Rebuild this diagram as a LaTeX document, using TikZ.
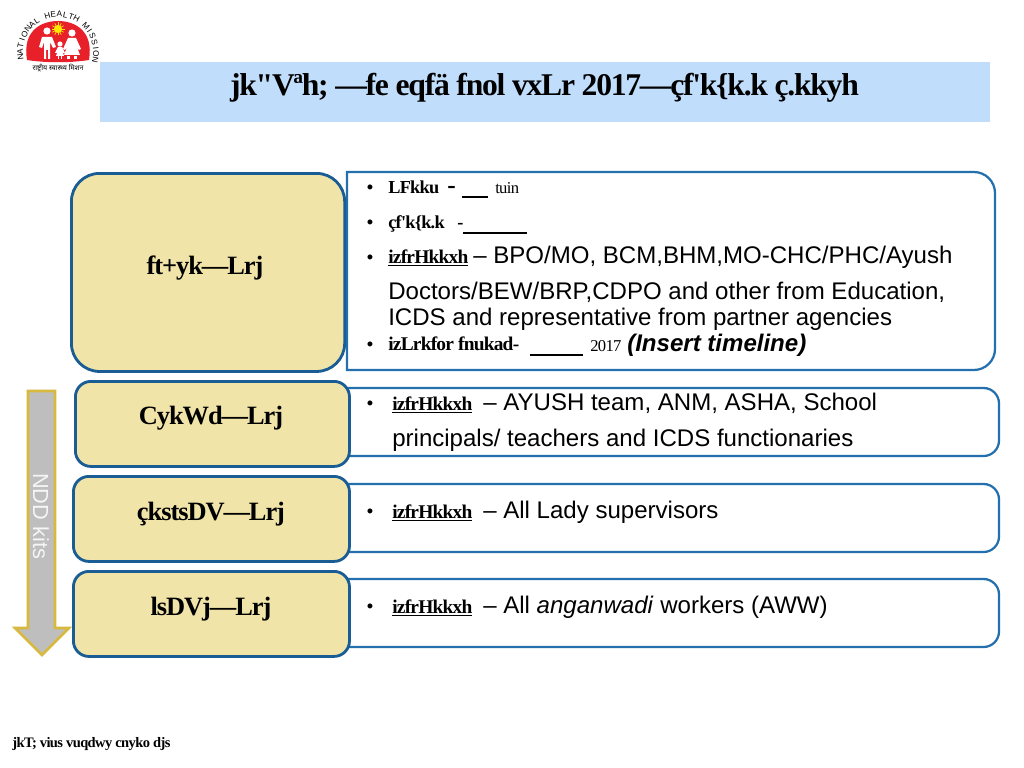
\documentclass[tikz,border=0pt]{standalone}
\usepackage{fontspec}
\setmainfont{Liberation Sans}
\newfontfamily\kdfont[LetterSpace=-4]{Liberation Serif}
\newfontfamily\kdplain{Liberation Serif}
\newfontfamily\hindifont[Script=Devanagari]{Noto Sans}
\definecolor{bandblue}{HTML}{C0DEFB}
\definecolor{levelfill}{HTML}{F0E4A8}
\definecolor{levelline}{HTML}{1A5C94}
\definecolor{panelline}{HTML}{2470AE}
\definecolor{kitgray}{HTML}{BEBEBE}
\definecolor{kitgold}{HTML}{D6B93E}
\definecolor{logored}{HTML}{E8202A}
\tikzset{
  level/.style={draw=levelline, fill=levelfill, line width=2pt, rounded corners=11pt, anchor=north west, inner sep=0pt},
  panel/.style={draw=panelline, fill=white, line width=1.6pt},
  leveltext/.style={font=\kdfont\bfseries\fontsize{18.8}{19}\selectfont},
  kd/.style={font=\kdfont\bfseries\fontsize{13}{13}\selectfont, anchor=base west, inner sep=0pt},
  kdpart/.style={kd, font=\kdfont\bfseries\fontsize{13.8}{14}\selectfont},
  kdsmall/.style={kd, font=\kdfont\fontsize{11.8}{12}\selectfont},
  kddash/.style={kd, font=\kdplain\bfseries\fontsize{18}{18}\selectfont},
  en/.style={font=\fontsize{17.1}{18}\selectfont, anchor=base west, inner sep=0pt},
  bul/.style={font=\fontsize{13}{13}\selectfont, anchor=base, inner sep=0pt},
  figure/.style={fill=white, draw=none},
}
\begin{document}
\begin{tikzpicture}[x=0.025cm, y=-0.025cm]
  \useasboundingbox (0,0) rectangle (1024,768);

  % Title band
  \fill[bandblue] (100,62) rectangle (990,122);
  \node[font=\kdfont\bfseries\fontsize{22.5}{23}\selectfont, anchor=base, inner sep=0pt] (title) at (544.5,95.5)
    {jk"Vªh; —fe eqfä fnol vxLr 2017—çf'k\{k.k ç.kkyh};

  % Logo
  \begin{scope}[shift={(58,52)}]
    \fill[logored] (-31,8) .. controls (-36,-22) and (-16,-31) .. (0,-31)
      .. controls (16,-31) and (36,-22) .. (31,8) .. controls (12,11) and (-12,11) .. (-31,8) -- cycle;
    \foreach \ch [count=\i from 0] in {N,A,T,I,O,N,A,L,{},H,E,A,L,T,H,{},M,I,S,S,I,O,N} {
      \pgfmathsetmacro{\ang}{188-9.09*\i}
      \node[font=\fontsize{5.8}{6}\selectfont, inner sep=0pt, rotate=\ang-90] (logo\i) at (-\ang:38) {\ch};
    }
    % Sun
    \foreach \a in {0,30,...,330} \draw[yellow!90!orange, line width=0.5pt] (0,-23) -- ++(\a:6.5);
    \fill[yellow!90!orange] (0,-23) circle (4);
    % Man
    \fill[figure] (-11,-21) circle (3.6);
    \fill[figure] (-16,-4) -- (-19,-5) -- (-16,-15) -- (-6,-15) -- (-2,-5) -- (-5,-4) -- (-8,-10) -- (-8,7) -- (-10,7) -- (-10,-2) -- (-12,-2) -- (-12,7) -- (-14,7) -- (-14,-10) -- cycle;
    % Woman
    \fill[figure] (14,-19) circle (3.6);
    \fill[figure] (5,-3) -- (10,-14) -- (18,-14) -- (23,-3) -- (21,-2) -- (19,-5) -- (22,3) -- (6,3) -- (9,-5) -- (7,-2) -- cycle;
    \fill[figure] (9,4) rectangle (12,7);
    \fill[figure] (16,4) rectangle (19,7);
    % Child
    \fill[figure] (2,-8) circle (2.6);
    \fill[figure] (-3,1) -- (0,-5) -- (4,-5) -- (7,1) -- (5,1) -- (6,4) -- (-2,4) -- (-1,1) -- cycle;
    \fill[figure] (0,4) rectangle (1.4,7);
    \fill[figure] (2.6,4) rectangle (4,7);
    \node[font=\hindifont\fontsize{5}{5}\selectfont, inner sep=0pt] (logotext) at (0,16.5) {राष्ट्रीय स्वास्थ्य मिशन};
  \end{scope}

  % Kit arrow
  \draw[fill=kitgray, draw=kitgold, line width=2pt] (28,391) -- (55,391) -- (55,628) -- (69,628) -- (42,655) -- (15,628) -- (28,628) -- cycle;
  \node[rotate=-90, font=\fontsize{15.5}{16}\selectfont, text=white!92!gray, inner sep=0pt] (kits) at (41,516) {NDD kits};

  % Right panels
  \draw[panel, sharp corners] (347,172) [rounded corners=15pt] -- (995,172) -- (995,370) [sharp corners] -- (347,370) -- cycle;
  \draw[panel, rounded corners=11pt] (348,388) -- (999,388) -- (999,456) -- (348,456);
  \draw[panel, rounded corners=11pt] (348,484) -- (999,484) -- (999,552) -- (348,552);
  \draw[panel, rounded corners=11pt] (348,579) -- (999,579) -- (999,647) -- (348,647);

  % Levels
  \node[level, rounded corners=20pt, minimum width=6.83cm, minimum height=4.95cm] (district) at (70,172) {};
  \node[level, minimum width=6.85cm, minimum height=2.125cm] (block) at (74,380) {};
  \node[level, minimum width=6.9cm, minimum height=2.125cm] (project) at (72,475) {};
  \node[level, minimum width=6.9cm, minimum height=2.125cm] (sector) at (72,570) {};
  \node[leveltext] (districtl) at (205,268) {ft+yk—Lrj};
  \node[leveltext] (blockl) at (211,418) {CykWd—Lrj};
  \node[leveltext] (projectl) at (211,514) {çkstsDV—Lrj};
  \node[leveltext] (sectorl) at (211,609) {lsDVj—Lrj};

  % District panel text
  \node[bul] (b1) at (370,193) {\textbullet};
  \node[kd] (place) at (388,193) {LFkku};
  \node[kddash] (placedash) at (447,193) {-};
  \draw[line width=1.2pt] (462,197) -- (488,197);
  \node[kdsmall] (dist) at (495,193) {tuin};

  \node[bul] (b2) at (370,228) {\textbullet};
  \node[kd] (training) at (388,228) {çf'k\{k.k};
  \node[kd] (trainingdash) at (457,228) {-};
  \draw[line width=1.2pt] (463,233) -- (527,233);

  \node[bul] (b3) at (370,263) {\textbullet};
  \node[kdpart] (part) at (388,263) {\underline{izfrHkkxh}};
  \node[en] (partl) at (473,263) {– BPO/MO, BCM,BHM,MO-CHC/PHC/Ayush};
  \node[en] (partm) at (388,299) {Doctors/BEW/BRP,CDPO and other from Education,};
  \node[en] (partn) at (388,325) {ICDS and representative from partner agencies};

  \node[bul] (b4) at (370,350) {\textbullet};
  \node[kdpart] (date) at (388,350) {izLrkfor fnukad-};
  \draw[line width=1.2pt] (530,355) -- (583,355);
  \node[kdsmall] (year) at (590,351) {2017};
  \node[en, font=\bfseries\itshape\fontsize{17.1}{18}\selectfont] (timeline) at (627,351) {(Insert timeline)};

  % Other panels
  \node[bul] (b5) at (370,409) {\textbullet};
  \node[kdpart] (part2) at (392,410) {\underline{izfrHkkxh}};
  \node[en] (part2l) at (483,410) {– AYUSH team, ANM, ASHA, School};
  \node[en] (part2m) at (392,446) {principals/ teachers and ICDS functionaries};

  \node[bul] (b6) at (370,517) {\textbullet};
  \node[kdpart] (part3) at (392,518) {\underline{izfrHkkxh}};
  \node[en] (part3l) at (483,518) {– All Lady supervisors};

  \node[bul] (b7) at (370,612) {\textbullet};
  \node[kdpart] (part4) at (392,613) {\underline{izfrHkkxh}};
  \node[en] (part4l) at (483,613) {– All \textit{anganwadi} workers (AWW)};

  % Footer
  \node[kd, font=\kdfont\bfseries\fontsize{10.3}{11}\selectfont] (footer) at (12,747) {jkT; vius vuqdwy cnyko djs};
\end{tikzpicture}
\end{document}
